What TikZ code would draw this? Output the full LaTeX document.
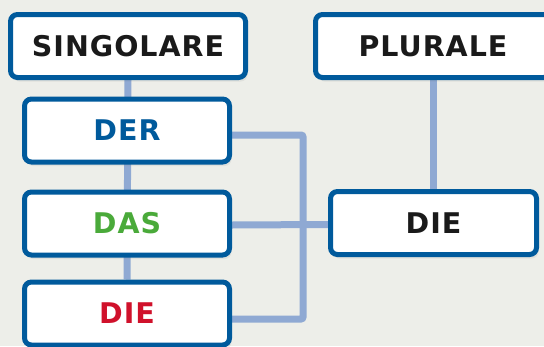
\documentclass[tikz,border=0pt]{standalone}
\usepackage{fontspec}
\setmainfont{DejaVu Sans}[LetterSpace=3.5]
\usetikzlibrary{shadows,backgrounds}
\definecolor{paper}{RGB}{237,238,233}
\definecolor{rahmen}{RGB}{0,90,156}
\definecolor{linie}{RGB}{143,169,211}
\definecolor{derblau}{RGB}{0,90,156}
\definecolor{dasgruen}{RGB}{74,170,58}
\definecolor{diered}{RGB}{208,17,43}
\definecolor{schrift}{RGB}{26,26,26}
\tikzset{
	kasten/.style={draw=rahmen, fill=white, line width=5pt, rounded corners=7pt,
		minimum height=63pt, inner sep=0pt, text=schrift,
		font=\fontsize{28.5}{32}\selectfont\bfseries,
		drop shadow={opacity=0.12, shadow xshift=2pt, shadow yshift=-4pt}},
	link/.style={draw=linie, line width=7pt, rounded corners=2pt}
}
\begin{document}
\begin{tikzpicture}[x=1pt,y=-1pt]
		\clip (0,0) rectangle (544,346);
		\useasboundingbox (0,0) rectangle (544,346);
		% singular
		\node[kasten, minimum width=235pt] (singolare) at (128,46) {SINGOLARE};
		\node[kasten, minimum width=205pt, text=derblau] (der) at (127,130.5) {DER};
		\node[kasten, minimum width=205pt, text=dasgruen] (das) at (127,223.5) {DAS};
		\node[kasten, minimum width=205pt, text=diered] (dies) at (127,313.5) {DIE};
		% plural
		\node[kasten, minimum width=235pt] (plurale) at (433,46) {PLURALE};
		\node[kasten, minimum width=206pt] (diep) at (433.5,223) {DIE};
		\coordinate (bus) at (303,225);
		\begin{scope}[on background layer]
			\fill[paper] (0,0) rectangle (544,346);
			\draw[link] (singolare.south) -- (dies.north);
			\draw[link] ([yshift=-4.5pt]der.east) -| (bus) |- ([yshift=-5.5pt]dies.east);
			\draw[link] ([yshift=-1.5pt]das.east) -- ([yshift=-1.5pt]diep.west);
			\draw[link] (plurale.south -| diep.north) -- (diep.north);
		\end{scope}
	\end{tikzpicture}
\end{document}
